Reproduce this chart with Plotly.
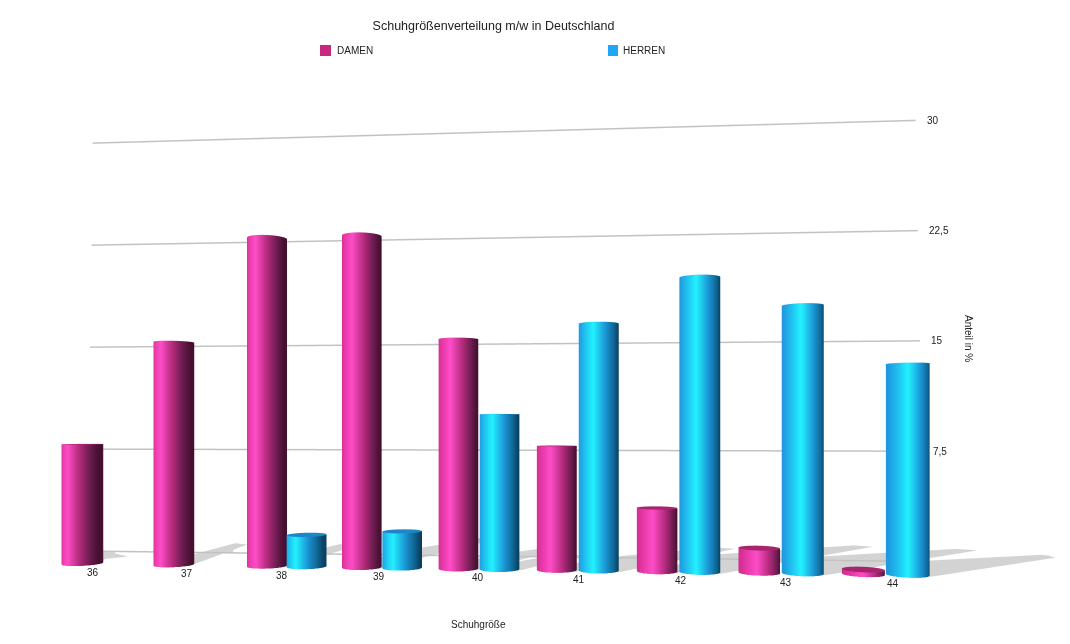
import numpy as np
import plotly.graph_objects as go

sizes = ["36", "37", "38", "39", "40", "41", "42", "43", "44"]
damen = [8.25, 15.25, 22.25, 22.3, 15.3, 8.2, 4.15, 1.6, 0.3]
herren = [None, None, 2.15, 2.45, 10.3, 16.25, 19.2, 17.3, 13.5]
z_ticks = [7.5, 15, 22.5, 30]
z_labels = ["7,5", "15", "22,5", "30"]

FIG_W = 1062
FIG_H = 832
DAMEN_SCALE = [[0, "#d42c90"], [0.38, "#ff4dc8"], [0.68, "#b52b7c"], [0.88, "#6e1d52"], [1, "#45102f"]]
HERREN_SCALE = [[0, "#1f98e0"], [0.38, "#22f2ff"], [0.68, "#1c96d6"], [0.88, "#106896"], [1, "#0a3f60"]]
DAMEN_CAP = "#a8246f"
HERREN_CAP = "#1c86c8"
R = 0.2
OFFSET = 0.21
GRID_LIFT = 0.3
theta = np.linspace(0, 2 * np.pi, 61)
fig = go.Figure()


def shadow(cx, v):
    dx = v * (0.02 * cx - 0.01)
    dy = v * 0.125
    xs = [cx - R, cx + R, cx + dx, cx + dx - 0.2, cx + R]
    ys = [0, -0.1, dy - 0.12, dy, 0.07 * v]
    fig.add_trace(go.Mesh3d(x=xs, y=ys, z=[0] * 5, i=[0, 0, 0], j=[1, 2, 3], k=[2, 3, 4],
                            color="#d3d3d3", flatshading=True, hoverinfo="skip",
                            lighting=dict(ambient=1, diffuse=0, specular=0), showlegend=False))


def cylinder(cx, v, scale, cap):
    X = np.array([cx + R * np.cos(theta)] * 2)
    Y = np.array([R * np.sin(theta)] * 2)
    Z = np.array([np.zeros_like(theta), np.full_like(theta, v)])
    fig.add_trace(go.Surface(x=X, y=Y, z=Z, surfacecolor=np.array([np.cos(theta)] * 2),
                             colorscale=scale, cmin=-1, cmax=1, showscale=False, hoverinfo="skip",
                             lighting=dict(ambient=1, diffuse=0, specular=0, fresnel=0)))
    Xc = np.array([cx + 0 * theta, cx + R * np.cos(theta)])
    Yc = np.array([0 * theta, R * np.sin(theta)])
    Zc = np.full_like(Xc, v)
    fig.add_trace(go.Surface(x=Xc, y=Yc, z=Zc, surfacecolor=np.zeros_like(Xc),
                             colorscale=[[0, cap], [1, cap]], showscale=False, hoverinfo="skip",
                             lighting=dict(ambient=1, diffuse=0, specular=0, fresnel=0)))


GRID_Y = 0.65
for t in [0] + z_ticks:
    fig.add_trace(go.Scatter3d(x=[-0.52 + 0.002 * t, 8.55 - 0.003 * t], y=[GRID_Y, GRID_Y],
                               z=[t + GRID_LIFT, t + GRID_LIFT], mode="lines",
                               line=dict(color="#c2c2c2", width=3), hoverinfo="skip", showlegend=False))

for i, (d, h) in enumerate(zip(damen, herren)):
    if d is not None:
        shadow(i - OFFSET, d)
        cylinder(i - OFFSET, d, DAMEN_SCALE, DAMEN_CAP)
    if h is not None:
        shadow(i + OFFSET, h)
        cylinder(i + OFFSET, h, HERREN_SCALE, HERREN_CAP)

TXT = dict(family="Liberation Sans", size=10, color="#222222")
ann = []
for i, s in enumerate(sizes):
    ann.append(dict(x=i, y=-0.2, z=0, text=s, showarrow=False, yshift=-6, xshift=2, font=TXT))
for t, l in zip(z_ticks, z_labels):
    ann.append(dict(x=8.55 - 0.003 * t, y=GRID_Y, z=t + GRID_LIFT, text=l, showarrow=False,
                    xanchor="left", xshift=9, font=TXT))


def px(x):
    return (x - 8) / FIG_W


def py(y):
    return 1 - (y - 8) / FIG_H


paper = dict(xref="paper", yref="paper", showarrow=False, font=TXT, yanchor="middle")
fig.update_layout(
    width=FIG_W, height=FIG_H, margin=dict(l=0, r=0, t=0, b=0), paper_bgcolor="white",
    font=dict(family="Liberation Sans", color="#222222"),
    title=dict(text="Schuhgrößenverteilung m/w in Deutschland", x=px(493.5), xanchor="center",
               y=py(26), yanchor="middle", font=dict(size=12.5, family="Liberation Sans", color="#222222")),
    showlegend=False,
    shapes=[
        dict(type="rect", xref="paper", yref="paper", x0=px(320), x1=px(331), y0=py(45), y1=py(56),
             fillcolor="#c9287f", line_width=0),
        dict(type="rect", xref="paper", yref="paper", x0=px(608), x1=px(618), y0=py(45), y1=py(56),
             fillcolor="#1ea7f5", line_width=0),
    ],
    annotations=[
        dict(text="DAMEN", x=px(335), y=py(50.5), xanchor="left", **paper),
        dict(text="HERREN", x=px(621), y=py(50.5), xanchor="left", **paper),
        dict(text="Schuhgröße", x=px(478), y=py(624), xanchor="center", **paper),
        dict(text="Anteil in %", x=px(969), y=py(338), xanchor="center", textangle=90, **paper),
    ],
    scene=dict(
        domain=dict(x=[0, 1], y=[0, 1]),
        xaxis=dict(visible=False, range=[-0.94, 10.16]),
        yaxis=dict(visible=False, range=[-3.6, 3.6]),
        zaxis=dict(visible=False, range=[0, 30.5]),
        aspectmode="manual", aspectratio=dict(x=1.12, y=0.72, z=0.4677),
        camera=dict(eye=dict(x=0.096, y=-1.015, z=-0.0859), center=dict(x=0, y=0, z=-0.0859), up=dict(x=0, y=0, z=1),
                    projection=dict(type="perspective")),
        annotations=ann,
    ),
)
fig.write_html("out.html")
